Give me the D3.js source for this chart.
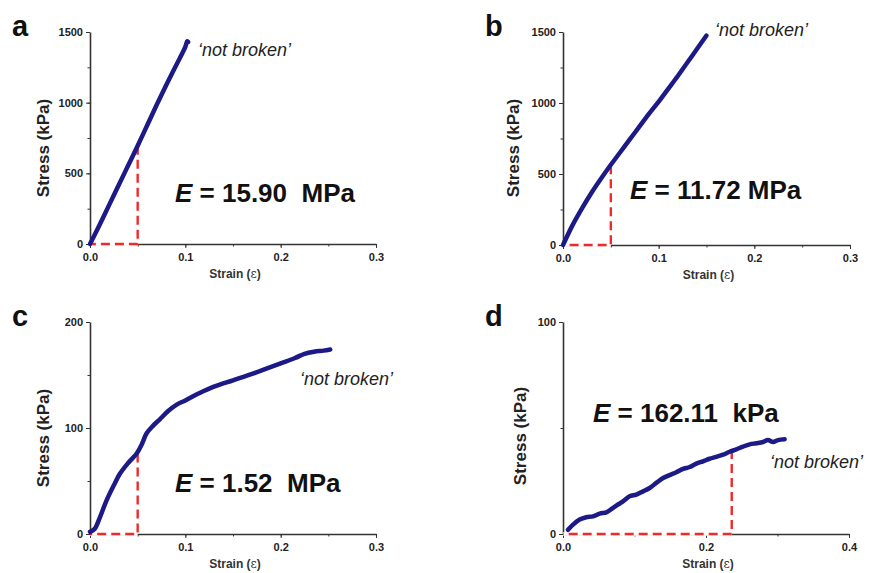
<!DOCTYPE html>
<html>
<head>
<meta charset="utf-8">
<script src="https://cdn.jsdelivr.net/npm/d3@7"></script>
<style>
  body { margin: 0; background: #fff; }
  svg { display: block; font-family: "Liberation Sans", Arial, sans-serif; }
  .axis path, .axis line { stroke: #333; }
  .axis text { font-weight: bold; font-size: 11px; fill: #222; }
</style>
</head>
<body>
<div id="svgContainer"></div>
<script>
// panel a
var strainA = [0, 0.01, 0.02, 0.03, 0.04, 0.05, 0.06, 0.07, 0.08, 0.09, 0.1, 0.102, 0.103]
var stressA = [0, 135, 275, 415, 555, 695, 840, 985, 1125, 1260, 1395, 1435, 1430]
// panel b
var strainB = [0, 0.01, 0.02, 0.03, 0.04, 0.05, 0.06, 0.07, 0.08, 0.09, 0.1, 0.11, 0.12, 0.13, 0.14, 0.15]
var stressB = [0, 140, 260, 370, 470, 565, 655, 745, 835, 925, 1010, 1100, 1190, 1285, 1380, 1475]
// panel c
var strainC = [0, 0.005, 0.0105, 0.0175, 0.025, 0.0315, 0.04, 0.049, 0.054, 0.0594, 0.066, 0.073, 0.082, 0.091, 0.1, 0.115, 0.13, 0.15, 0.17, 0.185, 0.2, 0.215, 0.225, 0.235, 0.245, 0.252]
var stressC = [2, 5, 16, 32, 46, 57, 67, 76, 84, 95, 102, 108, 116, 122, 126, 133, 139, 145, 151, 156, 161, 166, 170, 172, 173, 174]
// panel d
var strainD = [0.007, 0.014, 0.0233, 0.0326, 0.042, 0.0513, 0.0606, 0.0653, 0.0746, 0.0839, 0.0932, 0.1026, 0.1119, 0.1212, 0.1305, 0.1399, 0.1492, 0.1585, 0.1678, 0.1772, 0.1865, 0.1958, 0.2051, 0.2145, 0.2238, 0.2331, 0.2424, 0.2517, 0.2611, 0.2704, 0.2797, 0.2867, 0.2937, 0.3007, 0.31]
var stressD = [2.0, 4.4, 6.8, 7.9, 8.3, 9.6, 10.2, 11.2, 13.4, 15.4, 17.8, 18.6, 20.1, 21.7, 24.1, 26.4, 27.8, 29.1, 30.7, 31.6, 33.2, 34.3, 35.5, 36.4, 37.4, 38.8, 39.9, 41.2, 42.3, 42.8, 43.4, 44.3, 43.4, 44.3, 44.7]

// modulus marker (strain, stress) where the red dashed line meets the curve
var markA = [0.05, 695], markB = [0.05, 562], markC = [0.05, 76], markD = [0.236, 39.6]

var labels = ["a", "b", "c", "d"]
var moduli = ["15.90  MPa", "11.72 MPa", "1.52  MPa", "162.11  kPa"]
var xTicksABC = [0, 0.1, 0.2, 0.3], xTicksD = [0, 0.2, 0.4]
var yTicksAB = [0, 500, 1000, 1500], yTicksC = [0, 100, 200], yTicksD = [0, 100]

var width = 869, height = 573
var svg = d3.select("#svgContainer").append("svg")
    .attr("width", width).attr("height", height)

function drawPanel(p) {
    var xScale = d3.scaleLinear().domain(p.xDomain).range([p.left, p.right])
    var yScale = d3.scaleLinear().domain(p.yDomain).range([p.bottom, p.top])
    var g = svg.append("g")

    // minor ticks
    var minorX = d3.range(p.xDomain[0], p.xDomain[1] + 1e-9, p.xMinor)
    var minorY = d3.range(p.yDomain[0], p.yDomain[1] + 1e-9, p.yMinor)
    g.append("g").attr("class", "axis")
        .attr("transform", "translate(0," + p.bottom + ")")
        .call(d3.axisBottom(xScale).tickValues(minorX).tickSize(2.5).tickFormat(""))
        .call(a => a.select(".domain").remove())
    g.append("g").attr("class", "axis")
        .attr("transform", "translate(" + p.left + ",0)")
        .call(d3.axisLeft(yScale).tickValues(minorY).tickSize(2.5).tickFormat(""))
        .call(a => a.select(".domain").remove())

    // major axes
    g.append("g").attr("class", "axis")
        .attr("transform", "translate(0," + p.bottom + ")")
        .call(d3.axisBottom(xScale).tickValues(p.xTicks).tickSize(4).tickSizeOuter(0).tickPadding(5)
            .tickFormat(d3.format(".1f")))
        .call(a => a.select(".domain").attr("stroke-width", 1.6))
    g.append("g").attr("class", "axis")
        .attr("transform", "translate(" + p.left + ",0)")
        .call(d3.axisLeft(yScale).tickValues(p.yTicks).tickSize(4).tickSizeOuter(0).tickPadding(3)
            .tickFormat(d3.format("d")))
        .call(a => a.select(".domain").attr("stroke-width", 1.6))

    // axis titles
    var xt = g.append("text")
        .attr("x", (p.left + p.right) / 2 + 2).attr("y", p.bottom + 34)
        .attr("text-anchor", "middle")
        .style("font-weight", "bold").style("font-size", "12px").style("fill", "#333")
        .text("Strain (")
    xt.append("tspan").style("font-family", "DejaVu Serif").style("font-weight", "normal").text("ε")
    xt.append("tspan").text(")")
    g.append("text")
        .attr("transform", "translate(" + p.yTitleX + "," + p.yTitleY + ") rotate(-90)")
        .attr("text-anchor", "middle").attr("dominant-baseline", "central")
        .style("font-weight", "bold").style("font-size", "17px").style("fill", "#222")
        .text("Stress (kPa)")

    // panel letter
    g.append("text").attr("x", p.letterX).attr("y", p.letterY)
        .style("font-weight", "bold").style("font-size", "29px").style("fill", "#111")
        .text(p.letter)

    // red dashed construction lines
    var dashPts = [[p.mark[0], p.mark[1]], [p.mark[0], 0], [0, 0]]
    var dashLine = d3.line().x(d => xScale(d[0])).y(d => yScale(d[1]))
    g.append("path").attr("d", dashLine(dashPts.slice(1)))
        .attr("fill", "none").attr("stroke", "#fff").attr("stroke-width", 3.5)
    g.append("path").attr("d", dashLine(dashPts))
        .attr("fill", "none").attr("stroke", "#ee2a2a").attr("stroke-width", 2.4)
        .attr("stroke-dasharray", "9,5")

    // curve
    var pts = p.strain.map((s, i) => [s, p.stress[i]])
    g.append("path").datum(pts)
        .attr("fill", "none").attr("stroke", "#1c1a86").attr("stroke-width", 4.5)
        .attr("stroke-linejoin", "round").attr("stroke-linecap", "round")
        .attr("d", d3.line().x(d => xScale(d[0])).y(d => yScale(d[1])).curve(d3.curveCatmullRom))

    // modulus text
    var et = g.append("text").attr("x", p.eX).attr("y", p.eY)
        .style("font-weight", "bold").style("font-size", "26px").style("fill", "#111")
        .attr("xml:space", "preserve")
    et.append("tspan").style("font-style", "italic").text("E")
    et.append("tspan").text(" = " + p.modulus)

    // note
    g.append("text").attr("x", p.noteX).attr("y", p.noteY)
        .style("font-style", "italic").style("font-size", "18px").style("fill", "#222")
        .text("\u2018not broken\u2019")
}

var panels = [
    { letter: labels[0], strain: strainA, stress: stressA, mark: markA, modulus: moduli[0],
      xDomain: [0, 0.3], yDomain: [0, 1500], xTicks: xTicksABC, yTicks: yTicksAB, xMinor: 0.05, yMinor: 250,
      left: 90, right: 376, top: 32, bottom: 244, letterX: 12, letterY: 36, yTitleX: 43, yTitleY: 148,
      eX: 175, eY: 202, noteX: 198, noteY: 56 },
    { letter: labels[1], strain: strainB, stress: stressB, mark: markB, modulus: moduli[1],
      xDomain: [0, 0.3], yDomain: [0, 1500], xTicks: xTicksABC, yTicks: yTicksAB, xMinor: 0.05, yMinor: 250,
      left: 563, right: 850, top: 32, bottom: 245, letterX: 485, letterY: 36, yTitleX: 513, yTitleY: 148,
      eX: 630, eY: 199, noteX: 715, noteY: 36 },
    { letter: labels[2], strain: strainC, stress: stressC, mark: markC, modulus: moduli[2],
      xDomain: [0, 0.3], yDomain: [0, 200], xTicks: xTicksABC, yTicks: yTicksC, xMinor: 0.05, yMinor: 50,
      left: 90, right: 376, top: 322, bottom: 534, letterX: 12, letterY: 326, yTitleX: 43, yTitleY: 438,
      eX: 175, eY: 492, noteX: 300, noteY: 385 },
    { letter: labels[3], strain: strainD, stress: stressD, mark: markD, modulus: moduli[3],
      xDomain: [0, 0.4], yDomain: [0, 100], xTicks: xTicksD, yTicks: yTicksD, xMinor: 0.1, yMinor: 50,
      left: 563, right: 849, top: 322, bottom: 534, letterX: 485, letterY: 326, yTitleX: 520, yTitleY: 436,
      eX: 593, eY: 422, noteX: 770, noteY: 468 }
]
panels.forEach(drawPanel)
</script>
</body>
</html>
